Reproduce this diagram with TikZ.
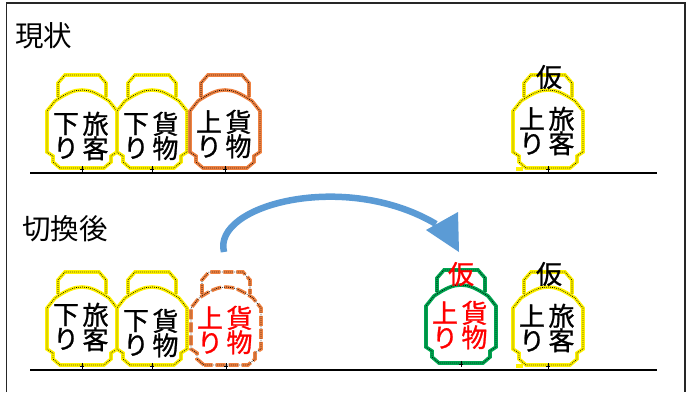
\documentclass[tikz,border=0pt]{standalone}
\usepackage{fontspec}
\setmainfont[FakeBold=1]{Noto Sans CJK JP}
\newfontfamily\titlefont{Noto Sans CJK JP}
\usetikzlibrary{calc}
\definecolor{wagonyellow}{HTML}{FFF200}
\definecolor{wagonorange}{HTML}{F08241}
\definecolor{wagongreen}{HTML}{00A651}
\definecolor{movearrow}{HTML}{5B9BD5}
\tikzset{
  yellowline/.style={draw=wagonyellow,line width=3.6pt},
  orangeline/.style={draw=wagonorange,line width=3.6pt},
  cutline/.style={draw=wagonorange,line width=3.6pt,dash pattern=on 10pt off 3pt},
  greenline/.style={draw=wagongreen,line width=3.6pt},
  dotline/.style={draw=black,line width=.7pt,dash pattern=on .8pt off 1.2pt},
  wagontext/.style={font=\fontsize{26}{24.5}\selectfont,align=center,inner sep=0pt},
  titletext/.style={font=\titlefont\fontsize{28.5}{30}\selectfont,inner sep=0pt,anchor=west},
  railline/.style={draw=black,line width=1.6pt},
  pics/wagon/.style n args={5}{code={
    \path[#1] (-24,-72) -- (-24,-86) -- (-17,-94) -- (17,-94) -- (24,-86) -- (24,-72);
    \path[#1] (-22,-1) -- (-29,-7) -- (-29,-13) -- (-35,-17) -- (-35,-58) -- (-27,-68)
      .. controls (-15,-76) and (-8,-79) .. (0,-79)
      .. controls (8,-79) and (15,-76) .. (27,-68)
      -- (35,-58) -- (35,-17) -- (29,-13) -- (29,-7) -- (22,-1) -- cycle;
    \path[dotline] (-24,-72) -- (-24,-86) -- (-17,-94) -- (17,-94) -- (24,-86) -- (24,-72);
    \path[dotline] (-22,-1) -- (-29,-7) -- (-29,-13) -- (-35,-17) -- (-35,-58) -- (-27,-68)
      .. controls (-15,-76) and (-8,-79) .. (0,-79)
      .. controls (8,-79) and (15,-76) .. (27,-68)
      -- (35,-58) -- (35,-17) -- (29,-13) -- (29,-7) -- (22,-1) -- cycle;
    \draw[black,line width=.6pt] (-2,0) -- (2,0) (0,-3) -- (0,3);
    \node[wagontext,text=#4] (-left) at (-16,-#5) {#2};
    \node[wagontext,text=#4] (-right) at (13.5,-#5) {#3};
  }}
}
\begin{document}
\begin{tikzpicture}[x=1pt,y=-1pt]
\useasboundingbox (0,0) rectangle (692,392);
\draw[black!85,line width=1.5pt] (6.5,392) -- (6.5,3) -- (685,3) -- (685,392);

\node[titletext] (now) at (15,36) {現状};
\node[titletext] (after) at (22,229) {切換後};

\draw[railline] (30,173) -- (657,173);
\draw[railline] (30,370) -- (657,370);

\pic (a1) at (82,169) {wagon={yellowline}{下\\り}{旅\\客}{black}{33}};
\pic (a2) at (152,169) {wagon={yellowline}{下\\り}{貨\\物}{black}{33}};
\pic (a3) at (225,169) {wagon={orangeline}{上\\り}{貨\\物}{black}{35}};
\draw[yellowline] (516,169) -- (523,169);
\pic (a4) at (548,169) {wagon={yellowline}{上\\り}{旅\\客}{black}{38}};
\node[wagontext] (a4mark) at (549,77) {仮};

\pic (b1) at (82,366) {wagon={yellowline}{下\\り}{旅\\客}{black}{39}};
\pic (b2) at (152,366) {wagon={yellowline}{下\\り}{貨\\物}{black}{33}};
\pic (b3) at (226,366) {wagon={cutline}{上\\り}{貨\\物}{red}{36}};
\pic (b5) at (461,364) {wagon={greenline}{上\\り}{貨\\物}{red}{39}};
\node[wagontext,text=red] (b5mark) at (461,274) {仮};
\draw[yellowline] (516,366) -- (523,366);
\pic (b4) at (548,366) {wagon={yellowline}{上\\り}{旅\\客}{black}{38}};
\node[wagontext] (b4mark) at (549,274) {仮};

\coordinate (from) at (224,252);
\coordinate (to) at (436,224);
\coordinate (tip) at (459,252);
\coordinate (headup) at (458,212);
\coordinate (headdown) at (426,230);
\draw[movearrow,line width=6.5pt] (from) .. controls (212,205) and (345,170) .. (to);
\fill[movearrow] (tip) -- (headup) -- (headdown) -- cycle;
\end{tikzpicture}
\end{document}
